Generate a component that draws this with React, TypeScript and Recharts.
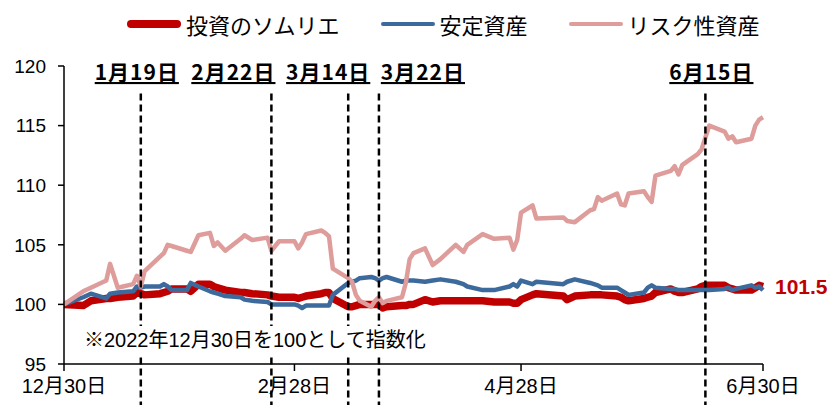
import React from "react";
import { LineChart, Line, XAxis, YAxis, ReferenceLine } from "recharts";

// index values, 2022-12-30 = 100
const dates = [
  "2022-12-30", "2023-01-04", "2023-01-06", "2023-01-10", "2023-01-11", "2023-01-13", "2023-01-17", "2023-01-18",
  "2023-01-19", "2023-01-20", "2023-01-24", "2023-01-25", "2023-01-26", "2023-01-27", "2023-01-31", "2023-02-01",
  "2023-02-03", "2023-02-06", "2023-02-07", "2023-02-08", "2023-02-10", "2023-02-14", "2023-02-15", "2023-02-17",
  "2023-02-21", "2023-02-22", "2023-02-24", "2023-02-28", "2023-03-01", "2023-03-02", "2023-03-03", "2023-03-07",
  "2023-03-08", "2023-03-09", "2023-03-10", "2023-03-14", "2023-03-15", "2023-03-16", "2023-03-17", "2023-03-20",
  "2023-03-21", "2023-03-22", "2023-03-23", "2023-03-24", "2023-03-28", "2023-03-29", "2023-03-30", "2023-03-31",
  "2023-04-03", "2023-04-05", "2023-04-07", "2023-04-11", "2023-04-13", "2023-04-14", "2023-04-18", "2023-04-21",
  "2023-04-25", "2023-04-26", "2023-04-27", "2023-04-28", "2023-05-01", "2023-05-02", "2023-05-09", "2023-05-10",
  "2023-05-12", "2023-05-16", "2023-05-17", "2023-05-18", "2023-05-19", "2023-05-23", "2023-05-24", "2023-05-25",
  "2023-05-26", "2023-05-30", "2023-05-31", "2023-06-01", "2023-06-02", "2023-06-06", "2023-06-07", "2023-06-08",
  "2023-06-09", "2023-06-13", "2023-06-14", "2023-06-15", "2023-06-16", "2023-06-20", "2023-06-21", "2023-06-22",
  "2023-06-23", "2023-06-27", "2023-06-28", "2023-06-29", "2023-06-30",
];

const sommelier = [
  100, 99.9, 100.3, 100.5, 100.5, 100.6, 100.7, 101.0,
  100.9, 100.8, 100.9, 101.0, 101.1, 101.3, 101.3, 101.1,
  101.7, 101.7, 101.5, 101.4, 101.2, 101.0, 101.0, 100.9,
  100.8, 100.7, 100.6, 100.6, 100.5, 100.6, 100.7, 100.9,
  101.0, 101.0, 100.5, 99.8, 99.8, 99.9, 100.0, 100.0,
  100.0, 100.0, 99.7, 99.8, 99.9, 99.9, 100.0, 100.0,
  100.4, 100.2, 100.3, 100.3, 100.3, 100.3, 100.3, 100.2,
  100.2, 100.1, 100.1, 100.4, 100.8, 100.9, 100.7, 100.4,
  100.7, 100.8, 100.8, 100.8, 100.8, 100.7, 100.6, 100.4,
  100.3, 100.5, 100.6, 100.7, 101.0, 101.3, 101.1, 101.0,
  101.0, 101.3, 101.5, 101.6, 101.6, 101.6, 101.4, 101.3,
  101.2, 101.2, 101.4, 101.6, 101.5,
];

const stable = [
  100, 100.6, 100.9, 100.5, 100.9, 101.0, 101.1, 101.5,
  101.4, 101.5, 101.5, 101.7, 101.5, 101.2, 101.2, 101.8,
  101.5, 101.1, 101.0, 100.9, 100.7, 100.6, 100.4, 100.3,
  100.2, 100.0, 100.0, 100.0, 99.9, 99.7, 99.9, 99.9,
  99.9, 99.9, 100.8, 101.8, 101.9, 102.0, 102.2, 102.3,
  102.2, 102.0, 102.2, 102.3, 101.9, 102.0, 102.0, 102.0,
  101.9, 102.0, 102.1, 101.9, 101.7, 101.5, 101.2, 101.2,
  101.5, 101.7, 101.5, 102.0, 101.7, 101.9, 101.7, 101.9,
  102.1, 101.8, 101.7, 101.6, 101.4, 101.4, 101.2, 101.0,
  100.8, 101.0, 101.4, 101.6, 101.4, 101.3, 101.3, 101.2,
  101.2, 101.2, 101.2, 101.2, 101.2, 101.3, 101.4, 101.2,
  101.3, 101.6, 101.4, 101.5, 101.2,
];

const risky = [
  100, 101.1, 101.4, 102.0, 103.4, 101.4, 101.7, 102.4,
  101.5, 102.8, 104.0, 104.3, 105.0, 104.9, 104.5, 104.4,
  105.8, 106.0, 104.9, 105.2, 104.5, 105.5, 105.8, 105.4,
  105.6, 104.5, 105.3, 105.3, 104.7, 105.2, 105.9, 106.2,
  106.0, 105.7, 103.0, 102.2, 101.9, 100.8, 100.3, 99.8,
  100.3, 100.6, 100.1, 100.3, 100.6, 101.8, 103.8, 104.3,
  104.7, 103.3, 103.8, 105.0, 104.4, 105.0, 105.9, 105.5,
  105.6, 104.6, 105.4, 107.7, 108.3, 107.2, 107.3, 107.0,
  106.9, 107.9, 108.0, 109.0, 108.7, 109.3, 108.4, 108.3,
  109.3, 109.5, 109.0, 108.6, 110.8, 111.2, 111.6, 110.9,
  111.7, 112.6, 113.0, 114.0, 115.0, 114.5, 113.9, 114.1,
  113.6, 113.9, 115.0, 115.5, 115.7,
];

const seriesNames = ["投資のソムリエ", "安定資産", "リスク性資産"];
const seriesColors = ["#C00000", "#3D6A9C", "#DE9C9B"];
const seriesWidths = [7.5, 4.5, 4.5];

const yTicks = [95, 100, 105, 110, 115, 120];
const xTickDates = ["2022-12-30", "2023-02-28", "2023-04-28", "2023-06-30"];
const eventDates = ["2023-01-19", "2023-02-22", "2023-03-14", "2023-03-22", "2023-06-15"];
const eventLabelDx = [-4, -38, -20, 44, 6];
const note = "※2022年12月30日を100として指数化";

const BASE = Date.UTC(2022, 11, 30);
const toDay = (s: string) => {
  const [y, m, d] = s.split("-").map(Number);
  return Math.round((Date.UTC(y, m - 1, d) - BASE) / 86400000);
};
const jpLabel = (s: string) => {
  const [, m, d] = s.split("-").map(Number);
  return `${m}月${d}日`;
};

const data = dates.map((d, i) => ({ day: toDay(d), s0: sommelier[i], s1: stable[i], s2: risky[i] }));
const xTicks = xTickDates.map(toDay);
const tickLabel: Record<number, string> = {};
xTickDates.forEach((d) => (tickLabel[toDay(d)] = jpLabel(d)));

const numFont = "'Liberation Sans', Arial, 'Noto Sans CJK JP', sans-serif";
const jpFont = "'Noto Sans CJK JP', 'Liberation Sans', sans-serif";

const endLabel = (p: any) => {
  if (p.index !== dates.length - 1) return <g />;
  return (
    <text x={p.x + 12} y={p.y} dy="0.36em" fill="#C00000" fontSize={21} fontWeight={700} fontFamily={numFont}>
      {Number(p.value).toFixed(1)}
    </text>
  );
};

export default function App() {
  const order = [0, 1, 2];
  return (
    <div style={{ position: "absolute", left: 0, top: 0, width: 827, height: 405, background: "#fff" }}>
      <div style={{ position: "absolute", left: 127, top: 11, display: "flex", alignItems: "center", fontFamily: jpFont, fontSize: 22, lineHeight: "26px", color: "#000" }}>
        {seriesNames.map((n, i) => (
          <div key={n} style={{ display: "flex", alignItems: "center", marginRight: i < 2 ? 41 : 0 }}>
            <span style={{ display: "inline-block", width: 54, height: seriesWidths[i], background: seriesColors[i], borderRadius: 4, marginRight: 5 }} />
            <span>{n}</span>
          </div>
        ))}
      </div>
      <LineChart width={827} height={405} data={data} margin={{ top: 66, right: 64, bottom: 0, left: 0 }}>
        <XAxis
          type="number"
          dataKey="day"
          domain={[0, toDay(dates[dates.length - 1])]}
          ticks={xTicks}
          interval={0}
          tickFormatter={(v: number) => tickLabel[v]}
          height={41}
          tickSize={7}
          tickMargin={8}
          axisLine={{ stroke: "#000", strokeWidth: 1.5 }}
          tickLine={{ stroke: "#000", strokeWidth: 1.5 }}
          tick={{ fill: "#000", fontSize: 20, fontFamily: numFont }}
        />
        <YAxis
          type="number"
          domain={[95, 120]}
          ticks={yTicks}
          interval={0}
          width={64}
          tickSize={6}
          tickMargin={12}
          axisLine={{ stroke: "#000", strokeWidth: 1.5 }}
          tickLine={{ stroke: "#000", strokeWidth: 1.5 }}
          tick={{ fill: "#000", fontSize: 19, fontFamily: numFont }}
        />
        {order.map((i) => (
          <Line
            key={i}
            type="linear"
            dataKey={`s${i}`}
            stroke={seriesColors[i]}
            strokeWidth={seriesWidths[i]}
            strokeLinejoin="round"
            dot={false}
            activeDot={false}
            isAnimationActive={false}
            label={i === 0 ? endLabel : undefined}
          />
        ))}
        {eventDates.map((d, i) => (
          <ReferenceLine
            key={d}
            segment={[{ x: toDay(d), y: 117.7 }, { x: toDay(d), y: 91.5 }]}
            ifOverflow="visible"
            stroke="#000"
            strokeWidth={2.5}
            strokeDasharray="7 4"
            label={(p: any) => (
              <text
                x={(p.viewBox?.x ?? 0) + eventLabelDx[i]}
                y={80}
                textAnchor="middle"
                fill="#000"
                fontSize={21}
                fontWeight={700}
                fontFamily={jpFont}
                letterSpacing={1}
                style={{ textDecoration: "underline" }}
              >
                {jpLabel(d)}
              </text>
            )}
          />
        ))}
      </LineChart>
      <div style={{ position: "absolute", left: 82, top: 326, padding: "1px 2px", background: "#fff", fontFamily: numFont, fontSize: 20, lineHeight: "26px", color: "#000", whiteSpace: "nowrap" }}>
        {note}
      </div>
    </div>
  );
}
